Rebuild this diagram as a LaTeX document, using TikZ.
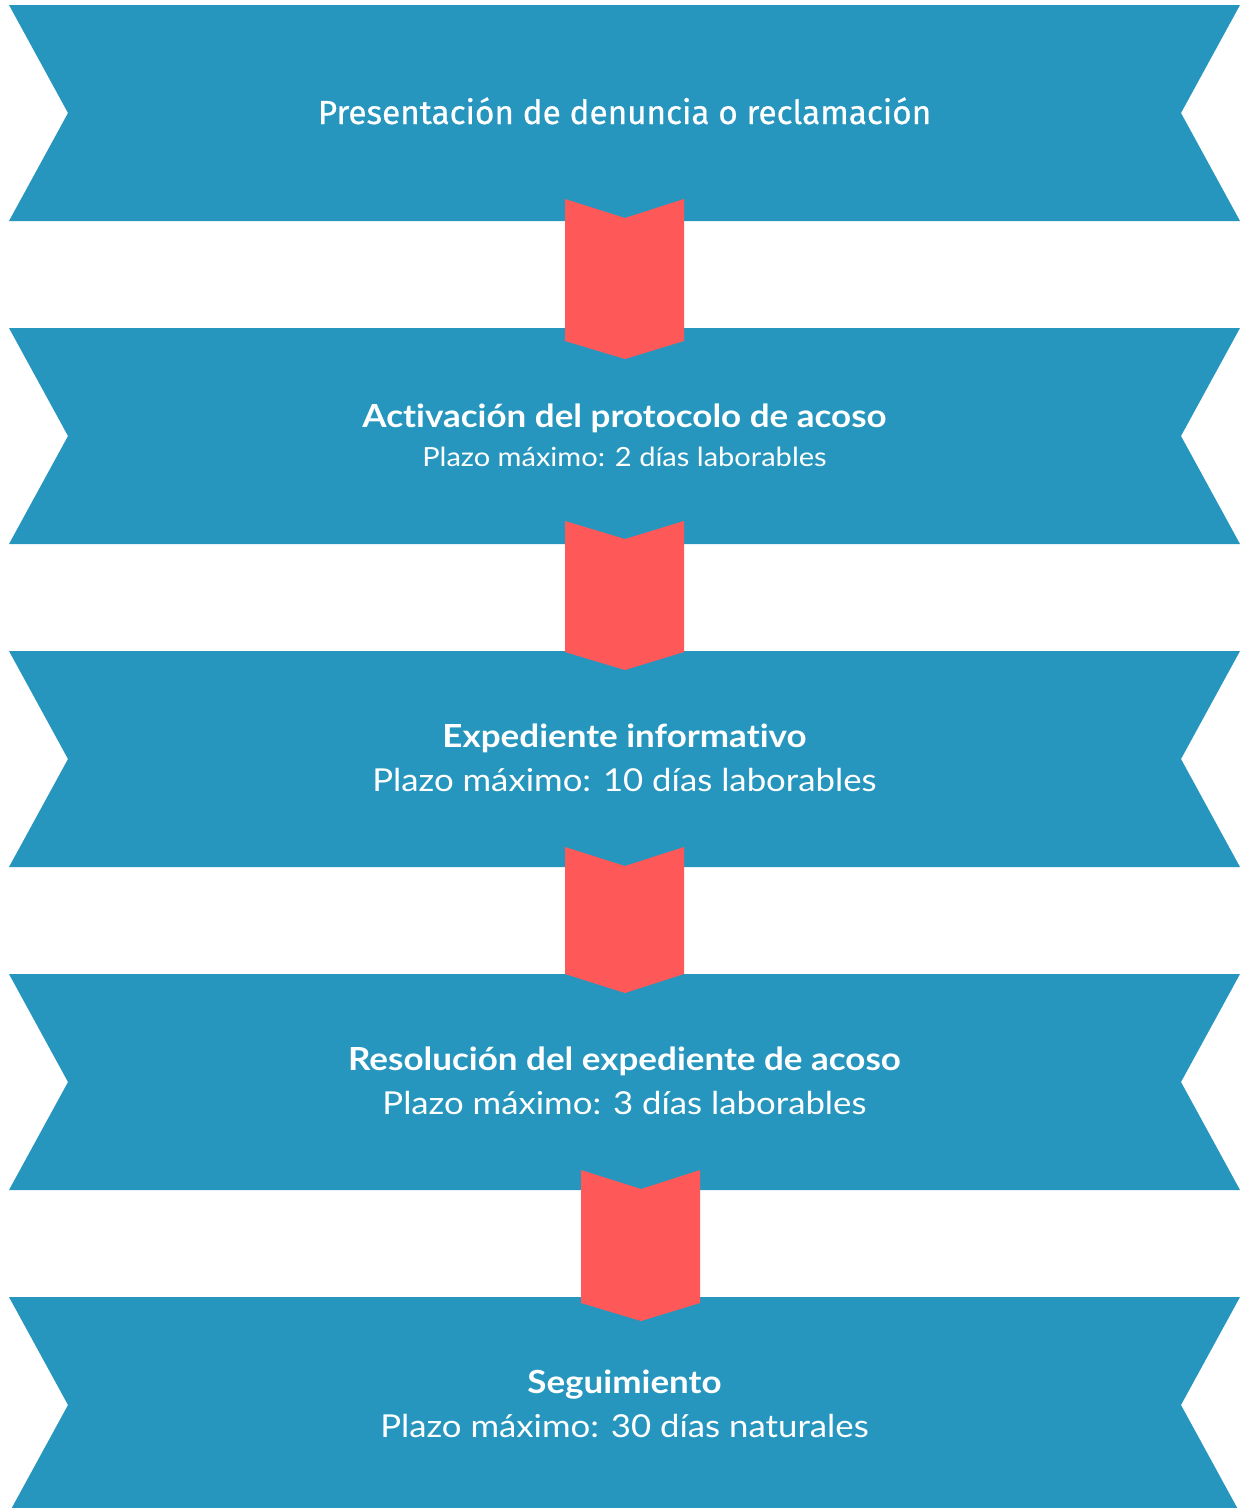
\documentclass[tikz,border=0pt]{standalone}
\usepackage{fontspec}
\setmainfont{Lato}[FakeStretch=1.1, Ligatures={NoCommon}]
\newfontfamily\firstfont{Fira Sans}[FakeBold=0.6]
\definecolor{bannerblue}{RGB}{38,150,190}
\definecolor{arrowred}{RGB}{255,88,88}
\tikzset{
  banner/.style={fill=bannerblue, draw=none},
  chev/.style={fill=arrowred, draw=none},
  headtxt/.style={anchor=base, text=white, inner sep=0pt, font=\fontsize{31.8}{36}\selectfont\bfseries},
  subtxt/.style={anchor=base, text=white, inner sep=0pt, font=\fontsize{31.6}{36}\selectfont},
  smallsub/.style={anchor=base, text=white, inner sep=0pt, font=\fontsize{26.4}{30}\selectfont},
  firsttxt/.style={anchor=base, text=white, inner sep=0pt, font=\fontsize{33.3}{38}\firstfont\selectfont},
}
\begin{document}
\begin{tikzpicture}[x=1pt,y=-1pt]
\useasboundingbox (0,0) rectangle (1241,1508);
% banners
\foreach \t in {5,328,651,974,1297}{
  \path[banner] (9,\t) -- (1240,\t) -- (1181,\t+108) -- (1240,\t+216) -- (9,\t+216) -- (68,\t+108) -- cycle;
}
% chevrons
\path[chev] (565,199) -- (625,218) -- (684,199) -- (684,341) -- (625,359) -- (565,341) -- cycle;
\path[chev] (565,521) -- (625,539) -- (684,521) -- (684,652) -- (625,670) -- (565,652) -- cycle;
\path[chev] (565,847) -- (625,866) -- (684,847) -- (684,974) -- (625,993) -- (565,974) -- cycle;
\path[chev] (581,1170) -- (641,1189) -- (700,1170) -- (700,1303) -- (641,1321) -- (581,1303) -- cycle;
% texts
\node[firsttxt] (t1) at (624.5,124) {Presentación de denuncia o reclamación};
\node[headtxt] (t2) at (624.5,427) {Activación del protocolo de acoso};
\node[smallsub] (s2) at (624.5,466) {Plazo máximo: 2 días laborables};
\node[headtxt] (t3) at (624.5,747) {Expediente informativo};
\node[subtxt] (s3) at (624.5,791) {Plazo máximo: 10 días laborables};
\node[headtxt] (t4) at (624.5,1070) {Resolución del expediente de acoso};
\node[subtxt] (s4) at (624.5,1114) {Plazo máximo: 3 días laborables};
\node[headtxt] (t5) at (624.5,1393) {Seguimiento};
\node[subtxt] (s5) at (624.5,1437) {Plazo máximo: 30 días naturales};
\end{tikzpicture}
\end{document}
